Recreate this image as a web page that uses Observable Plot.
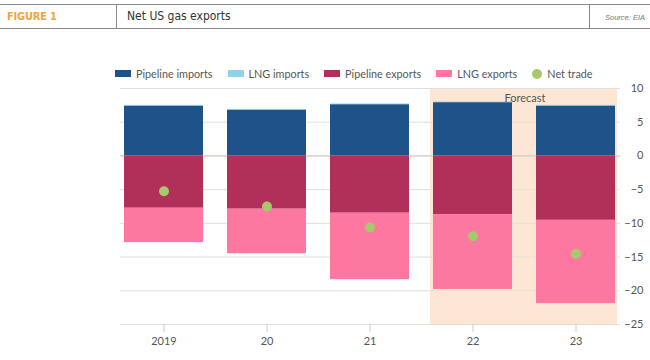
<!DOCTYPE html>
<html>
<head>
<meta charset="utf-8">
<script src="https://cdn.jsdelivr.net/npm/d3@7"></script>
<script src="https://cdn.jsdelivr.net/npm/@observablehq/plot@0.6"></script>
<style>
  html, body { margin: 0; padding: 0; background: #fff; }
  body { width: 650px; height: 360px; position: relative; overflow: hidden; font-family: Lato, "Open Sans", sans-serif; }
  #header { position: absolute; left: 0; top: 4px; width: 650px; height: 25px; border-top: 1px solid #8a8a8a; border-bottom: 1px solid #8a8a8a; box-sizing: border-box; }
  #fig { position: absolute; left: 7px; top: 5px; font-family: "DejaVu Sans Condensed", "Liberation Sans Narrow", sans-serif; font-weight: bold; font-size: 11px; color: #f2a33a; letter-spacing: -0.2px; }
  #vl1 { position: absolute; left: 116px; top: 0; height: 24px; border-left: 1px solid #8a8a8a; }
  #vl2 { position: absolute; left: 589px; top: 0; height: 24px; border-left: 1px solid #8a8a8a; }
  #title { position: absolute; left: 127px; top: 4px; font-family: "DejaVu Sans Condensed", "Liberation Sans Narrow", sans-serif; font-size: 12px; color: #333; font-weight: 500; }
  #source { position: absolute; left: 605px; top: 8px; font-family: "Liberation Sans", sans-serif; font-style: italic; font-size: 7.5px; color: #777; }
  #legend { position: absolute; left: 115px; top: 67px; display: flex; align-items: center; font-family: Lato, sans-serif; font-size: 10.8px; color: #555; }
  .item { display: flex; align-items: center; margin-right: 15px; }
  .sw { width: 16px; height: 7px; margin-right: 5px; }
  .dot { width: 10px; height: 10px; border-radius: 50%; margin-right: 5px; }
  #chart { position: absolute; left: 0; top: 80px; }
</style>
</head>
<body>
<div id="header">
  <div id="fig">FIGURE 1</div>
  <div id="vl1"></div>
  <div id="title">Net US gas exports</div>
  <div id="vl2"></div>
  <div id="source">Source: EIA</div>
</div>
<div id="legend"></div>
<div id="chart"></div>
<script>
// ---- data ----
const years = ["2019", "20", "21", "22", "23"];
const pipelineImports = [7.4, 6.8, 7.6, 7.9, 7.4];
const lngImports = [0.1, 0.1, 0.1, 0.1, 0.1];
const pipelineExports = [-7.76, -7.9, -8.5, -8.7, -9.55];
const lngExports = [-5.1, -6.6, -9.85, -11.1, -12.35];
const netTrade = [-5.25, -7.5, -10.6, -11.9, -14.5];
const seriesNames = ["Pipeline imports", "LNG imports", "Pipeline exports", "LNG exports"];
const seriesColors = ["#1f5288", "#8fd3ea", "#b0305a", "#fd78a1"];
const netColor = "#a7c96b";
const yTicks = [10, 5, 0, -5, -10, -15, -20, -25];
const forecastYears = ["22", "23"];
const forecastLabel = "Forecast";

const seriesValues = [pipelineImports, lngImports, pipelineExports, lngExports];
const rows = [];
seriesNames.forEach((s, i) => years.forEach((y, j) => rows.push({year: y, series: s, value: seriesValues[i][j]})));
const netRows = years.map((y, j) => ({year: y, value: netTrade[j]}));

// legend
const legend = document.getElementById("legend");
seriesNames.forEach((s, i) => {
  const it = document.createElement("div"); it.className = "item";
  it.innerHTML = `<div class="sw" style="background:${seriesColors[i]}"></div><span>${s}</span>`;
  legend.appendChild(it);
});
{
  const it = document.createElement("div"); it.className = "item";
  it.innerHTML = `<div class="dot" style="background:${netColor}"></div><span>Net trade</span>`;
  legend.appendChild(it);
}

const chart = Plot.plot({
  width: 650,
  height: 280,
  marginTop: 8,
  marginBottom: 36,
  marginLeft: 120,
  marginRight: 30,
  style: {fontFamily: "Lato, sans-serif", fontSize: "11px", color: "#555", background: "transparent"},
  x: {domain: years, paddingInner: 0.229, paddingOuter: 0.024, label: null},
  y: {domain: [-25, 10], label: null},
  color: {domain: seriesNames, range: seriesColors},
  marks: [
    Plot.barY(forecastYears.filter(d => d === "22"), {x: d => d, y1: -25, y2: 10, fill: "#fde7d4", insetLeft: -3, insetRight: -25}),
    Plot.barY(forecastYears.filter(d => d === "23"), {x: d => d, y1: -25, y2: 10, fill: "#fde7d4", insetLeft: 0, insetRight: -2}),
    Plot.gridY(yTicks, {stroke: "#e3ded9", strokeOpacity: 1}),
    Plot.ruleY([0], {stroke: "#cfcac5"}),
    Plot.barY(rows, {x: "year", y: "value", fill: "series", order: seriesNames}),
    Plot.dot(netRows, {x: "year", y: "value", r: 5, fill: netColor}),
    Plot.text([forecastLabel], {x: () => "22", y: 10, text: d => d, dx: 52, dy: 10, fill: "#555", fontSize: 11}),
    Plot.axisY(yTicks, {anchor: "right", tickSize: 0, tickPadding: 23, textAnchor: "end", fill: "#555", label: null}),
    Plot.axisX({tickSize: 8, tickPadding: 5, stroke: "#cccccc", fill: "#555", label: null})
  ]
});
document.getElementById("chart").appendChild(chart);
</script>
</body>
</html>
